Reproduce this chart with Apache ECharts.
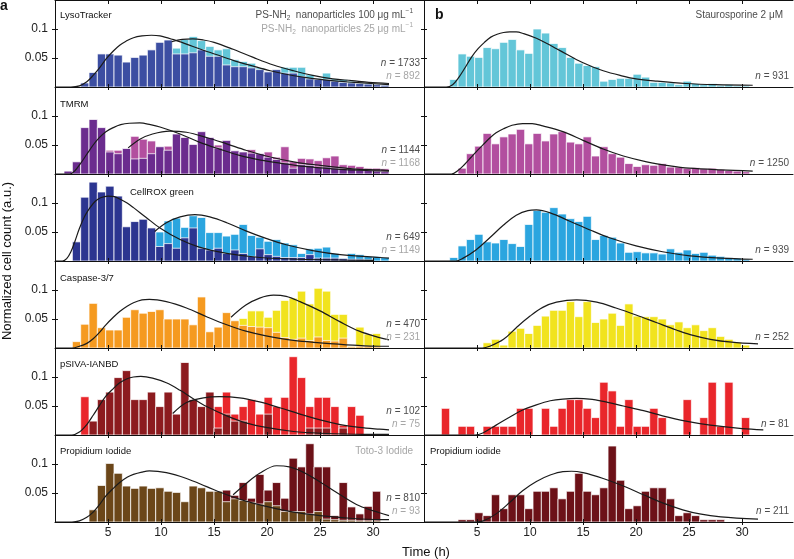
<!DOCTYPE html>
<html><head><meta charset="utf-8">
<script src="https://cdn.jsdelivr.net/npm/echarts@6/dist/echarts.min.js"></script>
<style>html,body{margin:0;padding:0;background:#fff}#c{width:794px;height:559px}</style>
</head><body><div id="c"></div>
<script>
// ---------- data ----------
const binStart = 0.85, binWidth = 0.786;   // histogram bins (h)
const xTicks = [5, 10, 15, 20, 25, 30];
const yTicks = [0.05, 0.1];

const lyso100 = [0,0,.007,.025,.057,.057,.055,.043,.051,.055,.064,.077,.081,.057,.057,.059,.064,.053,.053,.038,.035,.035,.033,.030,.026,.030,.024,.024,.018,.014,.013,.013,.010,.008,.007,.006,.005,.004,.003];
const lyso25  = [0,0,0,0,.010,.015,.020,.025,.030,.035,.045,.055,.060,.067,.082,.087,.080,.070,.064,.066,.047,.044,.041,.033,.026,.028,.034,.034,.034,.021,.015,.024,.014,.013,.010,.008,.007,.005,.004];
const stauro  = [0,0,.013,.057,.053,.051,.068,.066,.077,.082,.064,.058,.100,.093,.075,.068,.051,.041,.037,.035,.010,.013,.015,.015,.022,.017,.008,.008,.007,.004,.010,.006,.004,.006,.003,.004,.002,.002];

const tmrm100 = [.005,.021,.080,.094,.080,.038,.035,.044,.026,.027,.035,.047,.041,.069,.063,.051,.073,.063,.045,.058,.040,.038,.036,.035,.029,.025,.019,.010,.016,.015,.012,.012,.010,.009,.009,.007,.006,.005,.004];
const tmrm25  = [0,0,.010,.020,.030,.041,.041,.040,.065,.060,.057,.045,.048,.060,.055,.050,.060,.055,.050,.050,.038,.036,.042,.034,.038,.029,.047,.021,.027,.026,.023,.028,.031,.016,.015,.013,.010,.010,.009];
const tmrmS   = [0,0,0,.010,.035,.048,.070,.052,.064,.069,.077,.052,.070,.057,.069,.073,.055,.052,.064,.031,.047,.035,.029,.018,.013,.016,.015,.018,.012,.012,.010,.011,.009,.010,.008,.006,.005,.004];

const cell100 = [0,.033,.110,.136,.119,.129,.112,.059,.068,.072,.057,.025,.030,.022,.040,.057,.022,.019,.022,.013,.019,.013,.008,.021,.011,.008,.006,.006,.006,.011,.005,.005,.005,.004,.003,.003,.002];
const cell25  = [0,0,0,.005,.010,.015,.020,.030,.035,.040,.045,.050,.069,.074,.058,.078,.075,.049,.049,.043,.046,.063,.044,.041,.034,.037,.031,.028,.013,.021,.022,.024,.013,.005,.013,.011,.008,.008,.006];
const cellS   = [0,0,.006,.026,.037,.046,.033,.031,.037,.030,.025,.063,.087,.084,.092,.081,.073,.068,.077,.037,.044,.041,.031,.015,.016,.014,.014,.012,.021,.015,.019,.013,.015,.010,.008,.006,.005,.003];

const casp100 = [0,.011,.041,.077,.035,.031,.031,.053,.066,.060,.063,.066,.050,.050,.050,.040,.088,.028,.036,.061,.047,.039,.037,.036,.035,.027,.018,.015,.017,.013,.019,.013,.012,.017,.002,.003,.003,.002];
const casp25  = [0,0,0,0,0,0,0,0,0,0,0,0,0,0,0,.010,.020,.020,.030,.040,.045,.051,.064,.064,.053,.065,.082,.086,.098,.076,.103,.098,.058,.058,.003,.036,.024,.025];
const caspS   = [0,0,0,0,0,0,.009,.015,.005,.029,.034,.025,.039,.055,.065,.065,.080,.054,.080,.044,.050,.060,.039,.076,.055,.054,.054,.050,.040,.045,.035,.040,.030,.035,.020,.015,.010,.005];

const psiva100 = [0,0,0,.024,.061,.074,.099,.111,.061,.061,.074,.049,.074,.036,.125,.061,.049,.074,.012,.036,.024,.024,0,0,.036,0,0,0,0,.012,.012,.012,0,.012];
const psiva25  = [0,0,.066,0,0,0,0,0,.017,0,.017,0,.033,.017,.033,.033,.033,.049,.049,.074,.036,.049,.061,.036,.065,.049,.065,.135,.099,.049,.065,.065,.049,.017,.049,.034];
const psivaS   = [0,.046,0,.015,.015,0,.015,.015,.015,.015,.046,.046,0,.046,.015,.046,.061,.061,.046,.030,.091,.076,.015,.061,.015,.015,.046,.030,0,0,.061,0,.030,.091,.015,.091,0,.030];

const pi100 = [0,0,0,.021,.063,.101,.084,.062,.058,.062,.058,.059,.053,.051,.035,.062,.059,.053,.053,.035,.040,.037,.034,.031,.035,.028,.018,.018,.018,.014,.018,.005,.004,.003,.003,.002,.002,.002];
const toto  = [0,0,0,0,0,0,0,0,0,0,0,0,0,0,.010,.020,.020,.030,.040,.055,.046,.068,.041,.082,.055,.068,.041,.110,.095,.135,.095,.095,.011,.068,.026,.014,.027,.053];
const piS   = [0,0,0,.004,.004,.016,.011,.047,.023,.047,.047,.023,.053,.053,.059,.040,.053,.084,.053,.047,.059,.131,.072,.023,.028,.053,.059,.059,.040,.011,.016,.011,.004,.004,.004];

// fitted curves: [time h, value]
const fitLyso100 = [[0,0],[1.5,0],[2.3,0.002],[3,0.009],[3.6,0.02],[4.2,0.033],[4.8,0.048],[5.5,0.062],[6.1,0.072],[6.7,0.079],[7.4,0.085],[8.2,0.088],[9.1,0.0892],[9.9,0.088],[11.1,0.082],[12.4,0.074],[13.6,0.066],[15.2,0.056],[16.8,0.046],[18.7,0.036],[20.3,0.028],[21.8,0.022],[23.4,0.017],[25,0.013],[26.6,0.01],[28.2,0.008],[29.8,0.006],[31.5,0.004]];
const fitLyso25 = [[11.0,0.078],[12,0.082],[13,0.083],[14,0.081],[15,0.077],[16.8,0.065],[18.7,0.051],[20.6,0.038],[22.5,0.028],[24.3,0.02],[26.2,0.014],[28,0.011],[29.6,0.008],[31.5,0.006]];
const fitStauro = [[0,0],[2.1,0],[2.7,0.004],[3.3,0.017],[3.9,0.034],[4.5,0.052],[5.1,0.066],[5.7,0.077],[6.3,0.086],[6.9,0.091],[7.5,0.094],[8.1,0.095],[8.7,0.095],[9.4,0.092],[10.6,0.084],[11.5,0.076],[12.5,0.066],[13.5,0.056],[14.4,0.047],[15.6,0.037],[16.9,0.028],[18.5,0.02],[20,0.014],[22,0.01],[24.7,0.006],[27.5,0.004],[31,0.003]];
const fitTmrm100 = [[0,0],[1.4,0],[1.9,0.006],[2.4,0.018],[3,0.034],[3.6,0.05],[4.2,0.063],[4.8,0.073],[5.5,0.08],[6.2,0.085],[7,0.0875],[8,0.088],[9,0.085],[9.9,0.081],[11.8,0.069],[13.6,0.055],[15.5,0.043],[17.4,0.032],[19.4,0.024],[21.5,0.018],[23.5,0.013],[26.2,0.009],[29.4,0.006],[31.5,0.005]];
const fitTmrm25 = [[6.9,0.045],[8,0.06],[9.2,0.069],[10.8,0.074],[12.4,0.072],[14.3,0.063],[16.2,0.052],[18,0.041],[19.9,0.031],[22.5,0.021],[25,0.015],[28.1,0.009],[30.6,0.007],[31.5,0.006]];
const fitTmrmS = [[0,0],[2.6,0],[3.2,0.006],[3.8,0.016],[4.4,0.028],[5,0.04],[5.6,0.051],[6.2,0.062],[6.8,0.071],[7.5,0.078],[8.3,0.084],[9.3,0.087],[10.2,0.087],[11.2,0.083],[13.1,0.073],[15,0.058],[16.9,0.043],[18.8,0.031],[21,0.021],[23.2,0.014],[25,0.01],[28,0.007],[31,0.005]];
const fitCell100 = [[0,0],[0.7,0],[1.1,0.004],[1.5,0.016],[1.9,0.035],[2.3,0.056],[2.8,0.077],[3.3,0.092],[3.8,0.103],[4.3,0.109],[5,0.112],[5.6,0.111],[6.2,0.106],[6.8,0.1],[7.4,0.092],[8.6,0.075],[9.9,0.057],[11.8,0.037],[13.6,0.024],[16.2,0.013],[19.3,0.006],[23,0.003],[30,0.001]];
const fitCell25 = [[9.4,0.051],[10.5,0.066],[11.8,0.076],[13.2,0.08],[14.6,0.076],[16.2,0.066],[18,0.052],[19.9,0.039],[21.8,0.028],[24.3,0.018],[26.9,0.011],[30.6,0.006],[31.5,0.005]];
const fitCellS = [[0,0],[3,0],[3.7,0.005],[4.9,0.019],[6.2,0.04],[7.5,0.062],[8.7,0.079],[9.8,0.087],[10.6,0.088],[11.9,0.083],[13.7,0.069],[15.6,0.054],[17.5,0.04],[20,0.026],[22.5,0.016],[25.1,0.009],[28,0.005],[31,0.003]];
const fitCasp100 = [[0,0],[1.6,0],[2.3,0.003],[3,0.008],[3.6,0.016],[4.2,0.027],[4.8,0.04],[5.5,0.053],[6.1,0.063],[6.8,0.072],[7.4,0.078],[8.2,0.083],[8.9,0.084],[10.5,0.08],[12.4,0.069],[14.3,0.054],[16.2,0.04],[18,0.029],[19.9,0.021],[22.5,0.013],[25,0.009],[28.1,0.005],[30.6,0.003],[31.5,0.003]];
const fitCasp25 = [[16.6,0.053],[18,0.074],[19.3,0.086],[20.6,0.091],[21.8,0.089],[23.1,0.08],[25,0.064],[26.9,0.045],[28.7,0.029],[30.6,0.018],[31.5,0.014]];
const fitCaspS = [[0,0],[5.5,0],[6.2,0.003],[7.5,0.015],[8.7,0.035],[10,0.055],[11.2,0.07],[12.5,0.079],[14.4,0.083],[16.3,0.079],[18.1,0.069],[20,0.057],[21.9,0.044],[23.8,0.031],[25.1,0.023],[27,0.015],[29,0.01],[31.5,0.007]];
const fitPsiva100 = [[0,0],[1.6,0],[2.3,0.005],[3,0.018],[3.6,0.034],[4.2,0.051],[4.8,0.067],[5.5,0.08],[6.1,0.09],[6.8,0.097],[7.4,0.1],[8.1,0.101],[9.2,0.098],[10.5,0.09],[11.8,0.077],[13,0.063],[14.3,0.049],[16.2,0.033],[18,0.021],[19.9,0.013],[22.5,0.006],[25,0.003],[29,0.001],[31.5,0.001]];
const fitPsiva25 = [[11.1,0.037],[12.4,0.056],[14,0.064],[15.5,0.066],[17.4,0.064],[19.3,0.057],[21.2,0.047],[23.1,0.036],[25,0.026],[26.9,0.018],[28.7,0.013],[30.6,0.01],[31.5,0.009]];
const fitPsivaS = [[0,0],[4.8,0],[5.6,0.004],[6.8,0.017],[8.1,0.031],[9.3,0.043],[10.6,0.052],[11.9,0.059],[13.1,0.062],[14.4,0.063],[15.6,0.062],[16.9,0.058],[18.8,0.05],[20.7,0.042],[22.5,0.033],[24.7,0.024],[27,0.017],[30,0.011],[32,0.009]];
const fitPi100 = [[0,0],[1.6,0],[2.3,0.002],[3,0.008],[3.6,0.017],[4.2,0.03],[4.8,0.045],[5.5,0.058],[6.1,0.068],[6.8,0.077],[7.4,0.082],[8.2,0.086],[8.9,0.088],[10.5,0.085],[12.4,0.075],[14.3,0.061],[16.2,0.047],[18,0.036],[19.9,0.027],[22.5,0.017],[25,0.011],[28.1,0.006],[30.6,0.004],[31.5,0.004]];
const fitToto = [[16.8,0.047],[18,0.066],[19.3,0.084],[20.9,0.097],[22.1,0.095],[23.4,0.086],[25,0.069],[26.9,0.047],[28.7,0.028],[30.6,0.016],[31.5,0.011]];
const fitPiS = [[0,0],[4.8,0],[5.6,0.002],[6.8,0.014],[8.1,0.034],[9.3,0.054],[10.6,0.07],[11.9,0.081],[13.1,0.087],[13.9,0.0875],[15,0.085],[16.9,0.075],[18.8,0.062],[20.7,0.047],[22.5,0.033],[24.4,0.021],[26,0.014],[28,0.009],[31.5,0.005]];

const C = {lyso100:'#3c4ea2', lyso25:'#63c6d8', tmrm100:'#6b2c8e', tmrm25:'#b24f9f',
  cell100:'#2c3590', cell25:'#2ba5df', casp100:'#f59a20', casp25:'#f1e31e',
  psiva100:'#8c1b1f', psiva25:'#e9262b', pi100:'#6b4619', toto:'#6c1118'};

const panels = [
  {r:0,c:0, back:lyso25, backC:C.lyso25, front:lyso100, frontC:C.lyso100, curves:[fitLyso100, fitLyso25]},
  {r:0,c:1, front:stauro, frontC:C.lyso25, curves:[fitStauro]},
  {r:1,c:0, back:tmrm25, backC:C.tmrm25, front:tmrm100, frontC:C.tmrm100, curves:[fitTmrm100, fitTmrm25]},
  {r:1,c:1, front:tmrmS, frontC:C.tmrm25, curves:[fitTmrmS]},
  {r:2,c:0, back:cell25, backC:C.cell25, front:cell100, frontC:C.cell100, curves:[fitCell100, fitCell25]},
  {r:2,c:1, front:cellS, frontC:C.cell25, curves:[fitCellS]},
  {r:3,c:0, back:casp25, backC:C.casp25, front:casp100, frontC:C.casp100, curves:[fitCasp100, fitCasp25]},
  {r:3,c:1, front:caspS, frontC:C.casp25, curves:[fitCaspS]},
  {r:4,c:0, back:psiva25, backC:C.psiva25, front:psiva100, frontC:C.psiva100, curves:[fitPsiva100, fitPsiva25]},
  {r:4,c:1, front:psivaS, frontC:C.psiva25, curves:[fitPsivaS]},
  {r:5,c:0, back:toto, backC:C.toto, front:pi100, frontC:C.pi100, curves:[fitPi100, fitToto]},
  {r:5,c:1, front:piS, frontC:C.toto, curves:[fitPiS]}
];

// ---------- layout ----------
const FONT = '"Liberation Sans", Arial, Helvetica, sans-serif';
const GLEFT = [55, 424], GW = 369, GH = 87, XMAX = 34.8;
const grids = [], xAxes = [], yAxes = [], series = [];
const AX = '#111';

function binsOf(vals) {
  const out = [];
  vals.forEach((v, j) => { if (v > 0) out.push([binStart + j * binWidth, binStart + (j + 1) * binWidth, v]); });
  return out;
}
function barSeries(vals, color, xi, yi) {
  return {
    type: 'custom', xAxisIndex: xi, yAxisIndex: yi, data: binsOf(vals),
    encode: {x: [0, 1], y: 2}, z: 2, silent: true,
    renderItem: (p, api) => {
      const a = api.coord([api.value(0), api.value(2)]);
      const b = api.coord([api.value(1), 0]);
      return {type: 'rect', shape: {x: a[0], y: a[1], width: b[0] - a[0], height: b[1] - a[1]},
        style: {fill: color, stroke: 'rgba(255,255,255,0.75)', lineWidth: 1}};
    }
  };
}

panels.forEach((p, gi) => {
  grids.push({left: GLEFT[p.c], top: GH * p.r, width: GW, height: GH, containLabel: false});
  const xi = xAxes.length;
  xAxes.push({type: 'value', gridIndex: gi, min: 0, max: XMAX, position: 'bottom', z: 10,
    axisLine: {show: true, lineStyle: {color: AX, width: 1}},
    axisTick: {show: true, customValues: xTicks, length: 3, inside: false, lineStyle: {color: AX}},
    axisLabel: {show: p.r === 5, customValues: xTicks, fontSize: 12, color: '#222', margin: 5, fontFamily: FONT},
    splitLine: {show: false}});
  xAxes.push({type: 'value', gridIndex: gi, min: 0, max: XMAX, position: 'bottom', z: 10,
    axisLine: {show: false},
    axisTick: {show: true, customValues: xTicks, length: 3, inside: true, lineStyle: {color: AX}},
    axisLabel: {show: false}, splitLine: {show: false}});
  if (p.r === 0) {
    xAxes.push({type: 'value', gridIndex: gi, min: 0, max: XMAX, position: 'top', z: 10,
      axisLine: {show: true, lineStyle: {color: AX, width: 1}},
      axisTick: {show: true, customValues: xTicks, length: 4, inside: true, lineStyle: {color: AX}},
      axisLabel: {show: false}, splitLine: {show: false}});
  }
  const yi = yAxes.length;
  yAxes.push({type: 'value', gridIndex: gi, min: 0, max: 0.15, position: 'left', z: 10,
    axisLine: {show: true, lineStyle: {color: AX, width: 1}},
    axisTick: {show: true, customValues: yTicks, length: 3, inside: false, lineStyle: {color: AX}},
    axisLabel: {show: p.c === 0, customValues: yTicks, fontSize: 12, color: '#222', margin: 7, fontFamily: FONT},
    splitLine: {show: false}});
  yAxes.push({type: 'value', gridIndex: gi, min: 0, max: 0.15, position: 'left', z: 10,
    axisLine: {show: false},
    axisTick: {show: true, customValues: yTicks, length: 3, inside: true, lineStyle: {color: AX}},
    axisLabel: {show: false}, splitLine: {show: false}});
  if (p.back) series.push(barSeries(p.back, p.backC, xi, yi));
  series.push(barSeries(p.front, p.frontC, xi, yi));
  p.curves.forEach(cv => series.push({type: 'line', xAxisIndex: xi, yAxisIndex: yi, data: cv,
    smooth: 0.35, symbol: 'none', silent: true, z: 5,
    lineStyle: {color: '#1b1b1b', width: 1.2}}));
});

// ---------- texts ----------
const DARK = '#4d4d4d', LIGHT = '#a6a6a6';
function T(x, y, text, o = {}) {
  return {type: 'text', x, y, z: 50, silent: true, style: Object.assign({
    text, fill: o.fill || '#111', fontSize: o.size || 9.5, fontFamily: FONT,
    fontWeight: o.weight || 'normal', textAlign: o.align || 'left', align: o.align || 'left',
    textVerticalAlign: 'middle', verticalAlign: 'middle'}, o.rich ? {rich: o.rich} : {}),
    rotation: o.rot || 0};
}
function nLabel(x, y, val, fill) {
  return T(x, y, '{i|n}{t| = ' + val + '}', {align: 'right', fill, rich: {
    i: {fontSize: 10, fontStyle: 'italic', fill, fontFamily: FONT},
    t: {fontSize: 10, fill, fontFamily: FONT}}});
}
function psLabel(x, y, conc, fill) {
  return T(x, y, '{m|PS-NH}{s|2}{m|  nanoparticles ' + conc + ' μg mL}{p|−1}', {align: 'right', fill, rich: {
    m: {fontSize: 10, lineHeight: 14, fill, fontFamily: FONT},
    s: {fontSize: 6.5, lineHeight: 7, verticalAlign: 'bottom', fill, fontFamily: FONT},
    p: {fontSize: 6.5, lineHeight: 7, verticalAlign: 'top', fill, fontFamily: FONT}}});
}
const base = r => GH * (r + 1);
const nLeft = [['1733', '892'], ['1144', '1168'], ['649', '1149'], ['470', '231'], ['102', '75'], ['810', '93']];
const nRight = ['931', '1250', '939', '252', '81', '211'];
const graphics = [
  T(0, 6, 'a', {size: 14, weight: 'bold'}),
  T(435, 15, 'b', {size: 14, weight: 'bold'}),
  T(60, 15, 'LysoTracker'),
  psLabel(413, 15, '100', DARK),
  psLabel(413, 29, '25', LIGHT),
  T(783, 15, 'Staurosporine 2 μM', {align: 'right', size: 10, fill: DARK}),
  T(60, 104, 'TMRM'),
  T(130, 192, 'CellROX green'),
  T(60, 278, 'Caspase-3/7'),
  T(60, 364, 'pSIVA-IANBD'),
  T(60, 451, 'Propidium Iodide'),
  T(413, 451, 'Toto-3 Iodide', {align: 'right', size: 10, fill: LIGHT}),
  T(430, 451, 'Propidium iodide'),
  T(426, 552, 'Time (h)', {align: 'center', size: 13}),
  T(7, 261, 'Normalized cell count (a.u.)', {align: 'center', size: 13, rot: Math.PI / 2})
];
nLeft.forEach((pair, r) => {
  graphics.push(nLabel(420, base(r) - 24, pair[0], DARK));
  graphics.push(nLabel(420, base(r) - 11, pair[1], LIGHT));
});
nRight.forEach((v, r) => graphics.push(nLabel(789, base(r) - 11, v, DARK)));

const chart = echarts.init(document.getElementById('c'), null, {renderer: 'canvas'});
chart.setOption({
  animation: false,
  textStyle: {fontFamily: FONT},
  grid: grids, xAxis: xAxes, yAxis: yAxes, series,
  graphic: {elements: graphics}
});
</script></body></html>
